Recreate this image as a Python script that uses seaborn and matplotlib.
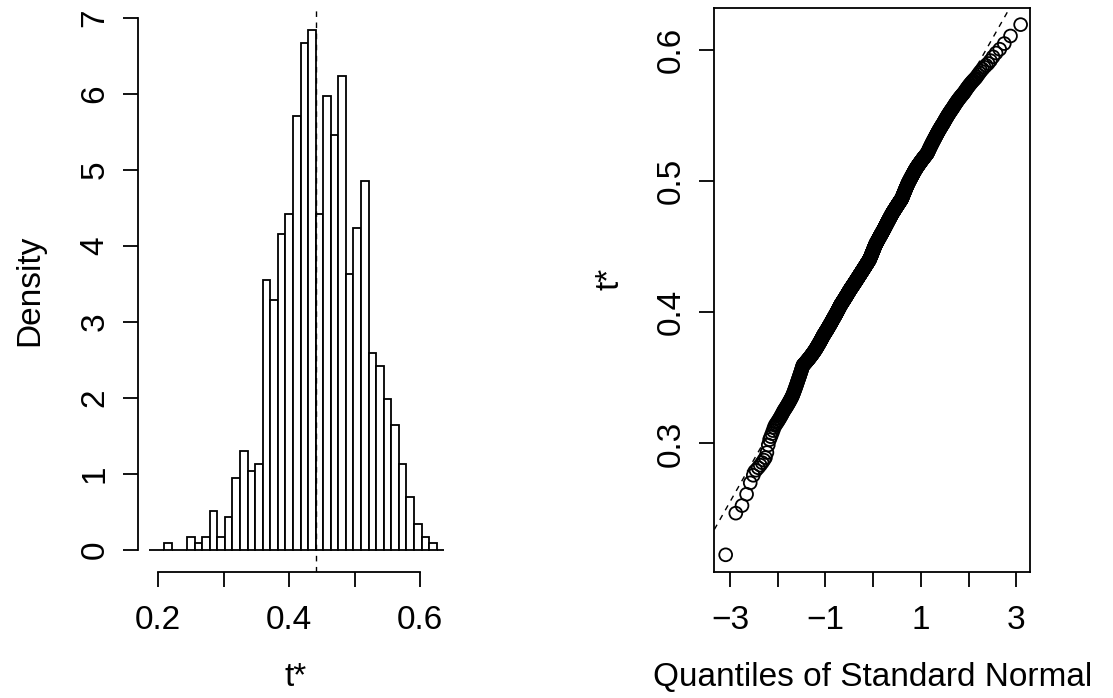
import numpy as np
import pandas as pd
import matplotlib
matplotlib.use("Agg")
import matplotlib.pyplot as plt
import seaborn as sns
from statistics import NormalDist

# ---------------- data ----------------
t0 = 0.4403            # observed statistic (dashed vertical line)
bin_width = 0.01155    # histogram bin width
first_edge_offset = -22  # first break = t0 - 22 * bin_width
# bootstrap replicate counts per histogram bin (density = count / (n * width))
bin_counts = [0, 0,
              1, 0, 0, 2, 1, 2, 6, 2, 5, 11, 15, 12, 13, 41, 38, 48, 51, 66, 77, 79,
              51, 69, 63, 72, 42, 49, 56, 30, 28, 23, 19, 13, 8, 4, 2, 1,
              0]
hist_xticks = [0.2, 0.3, 0.4, 0.5, 0.6]
hist_xticklabels = ["0.2", "", "0.4", "", "0.6"]
hist_yticks = [0, 1, 2, 3, 4, 5, 6, 7]
qq_xticks = [-3, -2, -1, 0, 1, 2, 3]
qq_xticklabels = ["\u22123", "", "\u22121", "", "1", "", "3"]
qq_yticks = [0.3, 0.4, 0.5, 0.6]

# ---------------- derived sample ----------------
edges = t0 + (np.arange(len(bin_counts) + 1) + first_edge_offset) * bin_width
vals = []
for i, c in enumerate(bin_counts):
    if c > 0:
        vals.extend(edges[i] + (np.arange(c) + 0.5) / c * bin_width)
t_star = np.sort(np.array(vals))
n = len(t_star)
qq = np.array([NormalDist().inv_cdf(i / (n + 1)) for i in range(1, n + 1)])
df = pd.DataFrame({"t": t_star, "q": qq})

# ---------------- figure ----------------
sns.set_theme(style="white")
plt.rcParams["font.family"] = ["Liberation Sans", "DejaVu Sans"]
plt.rcParams["text.color"] = "black"
plt.rcParams["axes.labelcolor"] = "black"
plt.rcParams["xtick.color"] = "black"
plt.rcParams["ytick.color"] = "black"
W, H = 1113, 698
fig = plt.figure(figsize=(W / 100, H / 100), dpi=100)
fig.patch.set_facecolor("white")


def rect(l, t, r, b):
    return [l / W, 1 - b / H, (r - l) / W, (b - t) / H]


FS = 24
TL = 11
LW = 1.3
TOP, BOT = 8, 571.7

# ---- left: histogram ----
ax1 = fig.add_axes(rect(138.3, TOP, 453.6, BOT))
sns.histplot(data=df, x="t", bins=edges, stat="density", ax=ax1,
             color="white", edgecolor="black", linewidth=LW, alpha=1)
ax1.axvline(t0, color="black", linestyle=(0, (4, 4)), linewidth=1.0)
ax1.set_xlim(0.1695, 0.6510)
ax1.set_ylim(-0.2855, 7.13)
ax1.set_xticks(hist_xticks)
ax1.set_xticklabels(hist_xticklabels)
ax1.set_yticks(hist_yticks)
ax1.set_yticklabels([str(v) for v in hist_yticks])
for s in ["top", "right"]:
    ax1.spines[s].set_visible(False)
ax1.spines["bottom"].set_bounds(0.2, 0.6)
ax1.spines["left"].set_bounds(0, 7)
for s in ["bottom", "left"]:
    ax1.spines[s].set_color("black")
    ax1.spines[s].set_linewidth(LW)
ax1.set_xlabel("t*", fontsize=FS)
ax1.set_ylabel("Density", fontsize=FS)

# ---- right: normal QQ plot ----
ax2 = fig.add_axes(rect(714.3, TOP, 1030, BOT))
sns.scatterplot(data=df, x="q", y="t", ax=ax2, s=85, facecolor="none",
                edgecolor="black", linewidth=1.3, marker="o")
ax2.axline((0, t_star.mean()), slope=t_star.std(ddof=1), color="black",
           linestyle=(0, (4, 4)), linewidth=1.0)
ax2.set_xlim(-3.329, 3.287)
ax2.set_ylim(0.2022, 0.632)
ax2.set_xticks(qq_xticks)
ax2.set_xticklabels(qq_xticklabels)
ax2.set_yticks(qq_yticks)
ax2.set_yticklabels([f"{v:.1f}" for v in qq_yticks])
for s in ax2.spines.values():
    s.set_visible(True)
    s.set_color("black")
    s.set_linewidth(LW)
ax2.set_xlabel("Quantiles of Standard Normal", fontsize=FS)
ax2.set_ylabel("t*", fontsize=FS)

for ax in (ax1, ax2):
    ax.tick_params(axis="both", which="both", direction="out", length=TL,
                   width=LW, color="black", labelcolor="black", labelsize=FS,
                   bottom=True, left=True)
    ax.tick_params(axis="x", pad=13)
    ax.tick_params(axis="y", pad=9, labelrotation=90)
    for lab in ax.get_yticklabels():
        lab.set_va("center")
    ax.grid(False)
    ax.set_facecolor("white")
    ax.xaxis.label.set_va("center")
    ax.yaxis.label.set_va("center")

ax_h = BOT - TOP
ax1.xaxis.set_label_coords(0.5, (BOT - 678) / ax_h)
ax2.xaxis.set_label_coords(0.5, (BOT - 678) / ax_h)
ax1.yaxis.set_label_coords((30 - 138.3) / 315.3, 0.5)
ax2.yaxis.set_label_coords((610 - 714.3) / 315.7, 0.52)

fig.savefig("out.png", dpi=100, facecolor="white")
